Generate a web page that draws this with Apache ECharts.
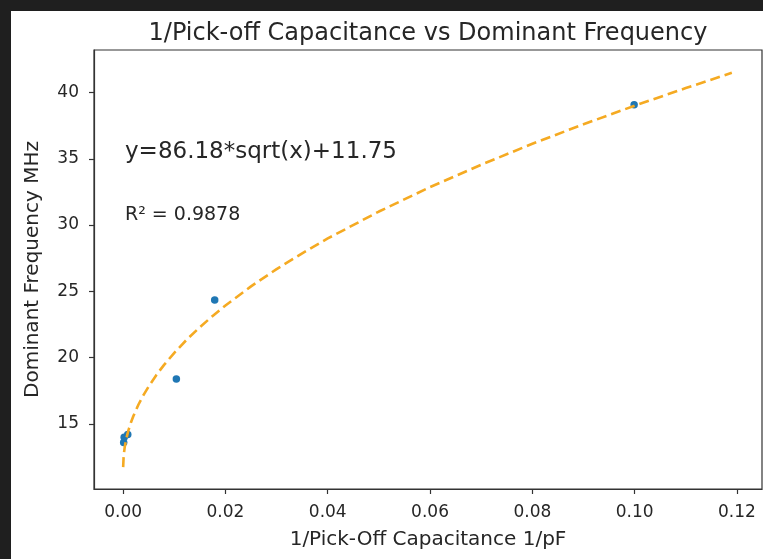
<!DOCTYPE html>
<html>
<head>
<meta charset="utf-8">
<script src="https://cdn.jsdelivr.net/npm/echarts@6/dist/echarts.min.js"></script>
<style>
  html, body { margin: 0; padding: 0; width: 763px; height: 559px; background: #1f1f1f; overflow: hidden; }
  #c { position: absolute; left: 11px; top: 11px; width: 752px; height: 548px; background: #ffffff; }
</style>
</head>
<body>
<div id="c"></div>
<script>
// Measured data points (1/pF, MHz)
const pointX = [0.0001, 0.0002, 0.0009, 0.0104, 0.0179, 0.0999];
const pointY = [13.6, 14.0, 14.2, 18.4, 24.35, 39.07];

// Fitted curve
const fitX = [0, 0.0001, 0.0003, 0.0006, 0.001, 0.0015, 0.002, 0.003, 0.004, 0.005, 0.0065, 0.008, 0.01, 0.0125, 0.015, 0.0175, 0.02, 0.025, 0.03, 0.035, 0.04, 0.05, 0.06, 0.07, 0.08, 0.09, 0.1, 0.11, 0.119];
const fitY = [11.75, 12.61, 13.24, 13.86, 14.48, 15.09, 15.60, 16.47, 17.20, 17.84, 18.70, 19.46, 20.37, 21.39, 22.30, 23.15, 23.94, 25.38, 26.68, 27.87, 28.99, 31.02, 32.86, 34.55, 36.13, 37.60, 39.00, 40.33, 41.48];

const xTicks = [0, 0.02, 0.04, 0.06, 0.08, 0.10, 0.12];
const yTicks = [15, 20, 25, 30, 35, 40];

const titleText = '1/Pick-off Capacitance vs Dominant Frequency';
const xName = '1/Pick-Off Capacitance 1/pF';
const yName = 'Dominant Frequency MHz';
const eqText = 'y=86.18*sqrt(x)+11.75';
const r2Text = 'R² = 0.9878';

const FONT = 'DejaVu Sans';
const TXT = '#262626';
const AX = '#333333';

const chart = echarts.init(document.getElementById('c'), null, { renderer: 'canvas' });
chart.setOption({
  animation: false,
  backgroundColor: '#ffffff',
  textStyle: { fontFamily: FONT },
  grid: { left: 83, right: 1, top: 39, bottom: 70, show: true, borderColor: AX, borderWidth: 1.2, backgroundColor: 'transparent' },
  xAxis: {
    type: 'value', min: -0.0057, max: 0.1249, position: 'bottom',
    name: xName, nameLocation: 'middle', nameGap: 41,
    nameTextStyle: { fontFamily: FONT, fontSize: 20, color: TXT },
    axisLine: { show: true, onZero: false, lineStyle: { color: AX, width: 1.2 } },
    splitLine: { show: false },
    axisTick: { show: true, inside: false, length: 5, lineStyle: { color: AX, width: 1.2 }, customValues: xTicks },
    axisLabel: { fontFamily: FONT, fontSize: 17, color: TXT, margin: 15, customValues: xTicks, formatter: v => v.toFixed(2) }
  },
  yAxis: {
    type: 'value', min: 10.1, max: 43.2, position: 'left',
    name: yName, nameLocation: 'middle', nameGap: 51,
    nameTextStyle: { fontFamily: FONT, fontSize: 20, color: TXT },
    axisLine: { show: true, onZero: false, lineStyle: { color: AX, width: 1.2 } },
    splitLine: { show: false },
    axisTick: { show: true, inside: false, length: 5, lineStyle: { color: AX, width: 1.2 }, customValues: yTicks },
    axisLabel: { fontFamily: FONT, fontSize: 17, color: TXT, margin: 15, customValues: yTicks, formatter: v => String(Math.round(v)) }
  },
  graphic: [
    { type: 'text', position: [417, 23], style: { text: titleText, fontFamily: FONT, fontSize: 24, fill: TXT, textAlign: 'center', textVerticalAlign: 'middle' } },
    { type: 'text', position: [114, 141], style: { text: eqText, fontFamily: FONT, fontSize: 23, fill: TXT, textAlign: 'left', textVerticalAlign: 'middle' } },
    { type: 'text', position: [114, 204], style: { text: r2Text, fontFamily: FONT, fontSize: 19, fill: TXT, textAlign: 'left', textVerticalAlign: 'middle' } }
  ],
  series: [
    {
      type: 'scatter', symbol: 'circle', symbolSize: 7.5, z: 2,
      itemStyle: { color: '#1f77b4', opacity: 1 },
      data: pointX.map((x, i) => [x, pointY[i]])
    },
    {
      type: 'line', showSymbol: false, smooth: false, z: 3,
      lineStyle: { color: '#f5aa22', width: 2.6, type: [10, 5] },
      data: fitX.map((x, i) => [x, fitY[i]])
    }
  ]
});
</script>
</body>
</html>
